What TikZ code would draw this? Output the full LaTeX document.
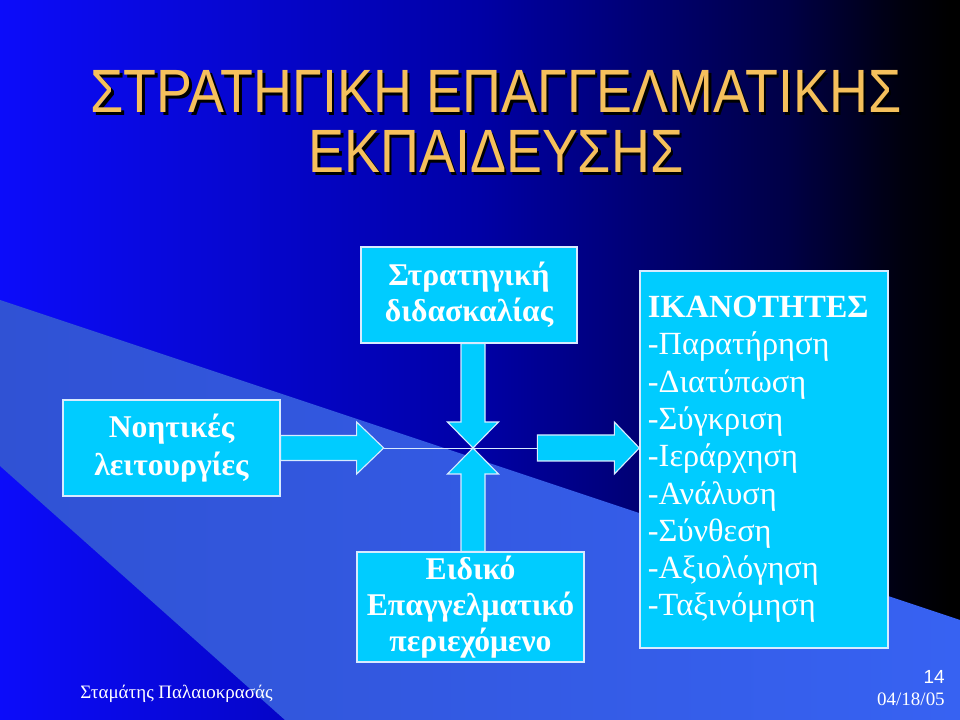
\documentclass[tikz,border=0pt]{standalone}
\usepackage{fontspec}
\setmainfont{Liberation Serif}
\newfontfamily\titlefont[FakeStretch=0.88]{Liberation Sans}
\newfontfamily\numfont{Liberation Sans}
\usetikzlibrary{calc,positioning}
\definecolor{boxcyan}{RGB}{0,204,255}
\definecolor{titlegold}{RGB}{245,192,92}
\definecolor{bgA}{RGB}{12,12,250}
\definecolor{bgB}{RGB}{0,0,165}
\definecolor{bgC}{RGB}{0,0,70}
\definecolor{bgD}{RGB}{0,0,14}
\definecolor{lightA}{RGB}{48,82,212}
\definecolor{lightB}{RGB}{55,98,242}
\definecolor{edge}{RGB}{215,235,255}
\pgfdeclarehorizontalshading{bgshade}{100bp}{color(0bp)=(bgA); color(25bp)=(bgA); color(50bp)=(bgB); color(66bp)=(bgC); color(72bp)=(bgD); color(74.5bp)=(black); color(100bp)=(black)}

\begin{document}
\begin{tikzpicture}
    [x=0.025cm,y=-0.025cm,
     box/.style={draw=edge,line width=0.9pt,fill=boxcyan,text=white,inner sep=0pt,align=center,font=\fontsize{22.5}{27}\selectfont\bfseries},
     barrow/.style={draw=edge,line width=0.8pt,fill=boxcyan},
     title/.style={inner sep=0pt,anchor=base,font=\titlefont\fontsize{43.5}{43.5}\selectfont},
     foot/.style={inner sep=0pt,text=white,font=\fontsize{13.5}{16}\selectfont}]

    % background
    \shade[shading=bgshade] (0,0) rectangle (960,720);
    \useasboundingbox (0,0) rectangle (960,720);
    \shade[left color=lightA,right color=lightB] (0,300) -- (960,620) -- (960,720) -- (285,720) -- (0,466) -- cycle;

    % title
    \node[title,text=black] (ttlAs) at (498.5,115.5) {ΣΤΡΑΤΗΓΙΚΗ ΕΠΑΓΓΕΛΜΑΤΙΚΗΣ};
    \node[title,text=black] (ttlBs) at (498.5,175.5) {ΕΚΠΑΙΔΕΥΣΗΣ};
    \node[title,text=titlegold] (ttlA) at (496,113) {ΣΤΡΑΤΗΓΙΚΗ ΕΠΑΓΓΕΛΜΑΤΙΚΗΣ};
    \node[title,text=titlegold] (ttlB) at (496,173) {ΕΚΠΑΙΔΕΥΣΗΣ};

    % boxes
    \node[box,minimum width=5.425cm,minimum height=2.4cm] (noet) at (171.5,448) {Νοητικές\\λειτουργίες};
    \node[box,minimum width=5.4cm,minimum height=2.4cm,font=\fontsize{22.5}{25.6}\selectfont\bfseries] (strat) at (469,295) {Στρατηγική\\διδασκαλίας};
    \node[box,minimum width=5.675cm,minimum height=2.75cm,font=\fontsize{22.5}{25.6}\selectfont\bfseries] (eid) at (470.5,607) {Ειδικό\\Επαγγελματικό\\περιεχόμενο};
    \node[box,align=left,text width=5.8cm,minimum height=9.425cm,inner xsep=0.2cm,font=\fontsize{23}{26.5}\selectfont] (ikan) at (764,459.5)
        {\textbf{ΙΚΑΝΟΤΗΤΕΣ}\\-Παρατήρηση\\-Διατύπωση\\-Σύγκριση\\-Ιεράρχηση\\-Ανάλυση\\-Σύνθεση\\-Αξιολόγηση\\-Ταξινόμηση};

    % arrows
    \coordinate (mid) at (473,448);
    \coordinate (ltip) at ($(noet.east)+(103,0)$);
    \coordinate (rtail) at ($(ikan.west |- mid)+(-102,0)$);
    \draw[barrow] ($(noet.east)+(0,-12.5)$) -- ++(76,0) -- ++(0,-13.5) -- (ltip) -- ++(-27,26) -- ++(0,-13.5) -- ++(-76,0) -- cycle;
    \draw[barrow] (mid) -- ++(-25.5,-26) -- ++(13.5,0) -- ($(mid |- strat.south)+(-12,0)$) -- ++(24,0) -- ($(mid)+(12,-26)$) -- ++(13.5,0) -- cycle;
    \draw[barrow] (mid) -- ++(-25.5,26) -- ++(13.5,0) -- ($(mid |- eid.north)+(-12,0)$) -- ++(24,0) -- ($(mid)+(12,26)$) -- ++(13.5,0) -- cycle;
    \draw[barrow] (ikan.west |- mid) -- ++(-25,-26) -- ++(0,13) -- ++(-77,0) -- ++(0,26) -- ++(77,0) -- ++(0,13) -- cycle;
    \draw[edge,line width=0.7pt] (ltip) -- (rtail);

    % footer
    \node[foot,anchor=base west] (auth) at (80,698) {Σταμάτης Παλαιοκρασάς};
    \node[foot,anchor=base east,font=\numfont\fontsize{13.5}{16}\selectfont] (pnum) at (945,683) {14};
    \node[foot,anchor=base east] (date) at (945,705) {04/18/05};

\end{tikzpicture}
\end{document}
